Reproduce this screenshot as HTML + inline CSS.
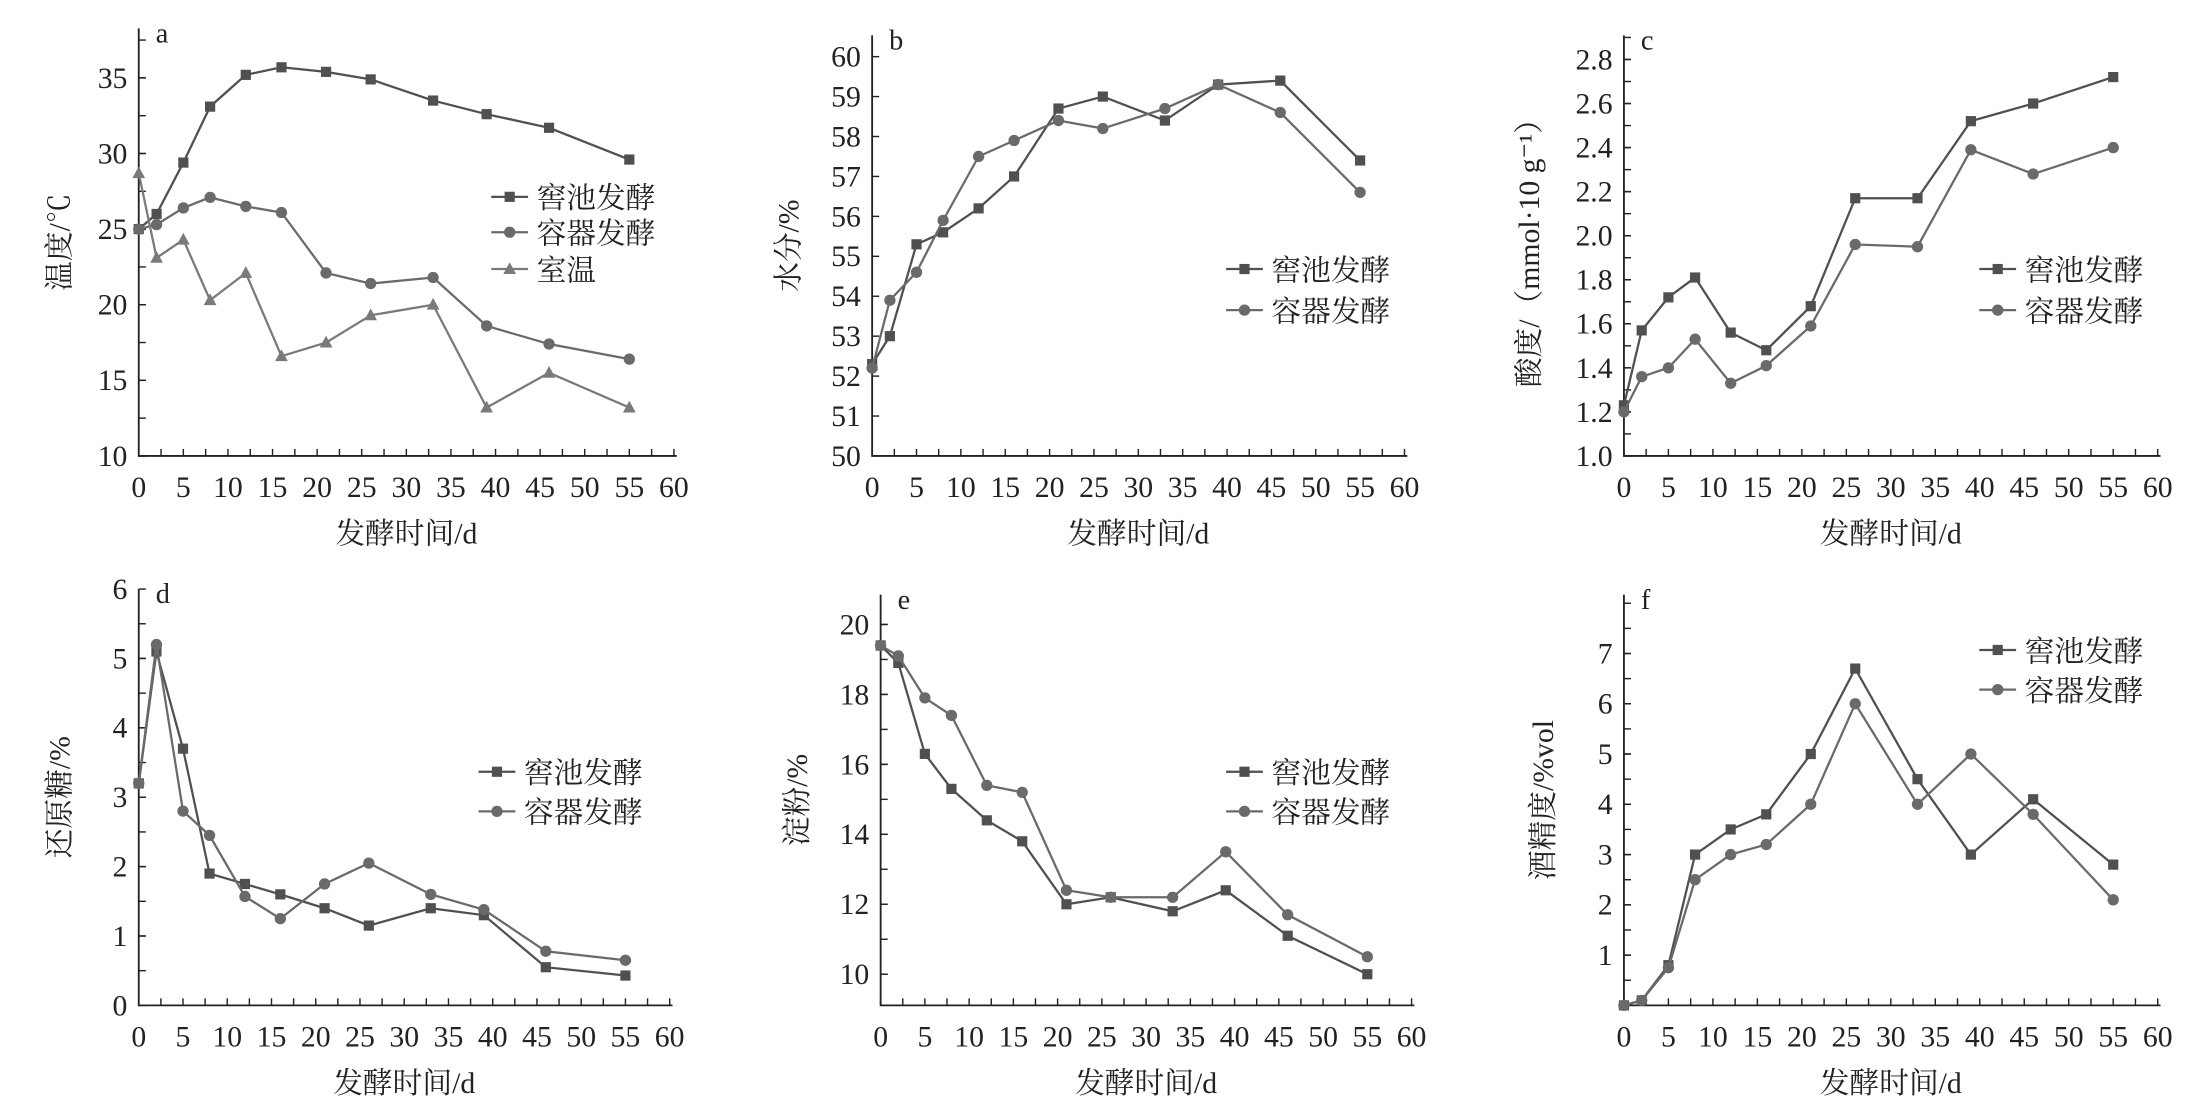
<!DOCTYPE html>
<html><head><meta charset="utf-8">
<style>html,body{margin:0;padding:0;background:#fff;width:2203px;height:1113px;overflow:hidden}
svg{display:block}
text{font-family:"Liberation Serif","Noto Serif CJK SC","Noto Sans CJK SC",serif;fill:#222}</style></head>
<body>
<svg id="s" width="2203" height="1113" viewBox="0 0 1556 786" preserveAspectRatio="none" xmlns="http://www.w3.org/2000/svg"></svg>
<script>
var X=[0,2,5,8,12,16,21,26,33,39,46,55];
var P=[
{x0:98,x1:476,yb:322,yt:20,vmin:10,vmax:10+(322-20)/(322-55)*25,ticks:[10,15,20,25,30,35],minor:2.5,dec:0,lab:'a',
 title:'温度/℃',tx:42,
 series:[{n:'窖池发酵',m:'s',c:'#505050',d:[25.0,26.0,29.4,33.1,35.2,35.7,35.4,34.9,33.5,32.6,31.7,29.6]},
 {n:'容器发酵',m:'c',c:'#6a6a6a',d:[25.0,25.3,26.4,27.1,26.5,26.1,22.1,21.4,21.8,18.6,17.4,16.4]},
 {n:'室温',m:'t',c:'#7a7a7a',d:[28.7,23.1,24.3,20.3,22.1,16.6,17.5,19.3,20.0,13.2,15.5,13.2]}],
 lx:347,ly:[139,164,190]},
{x0:616,x1:992,yb:322,yt:25,vmin:50,vmax:50+(322-25)/(322-40)*10,ticks:[50,51,52,53,54,55,56,57,58,59,60],minor:0,dec:0,lab:'b',
 title:'水分/%',tx:557,
 series:[{n:'窖池发酵',m:'s',c:'#505050',d:[52.3,53.0,55.3,55.6,56.2,57.0,58.7,59.0,58.4,59.3,59.4,57.4]},
 {n:'容器发酵',m:'c',c:'#6a6a6a',d:[52.2,53.9,54.6,55.9,57.5,57.9,58.4,58.2,58.7,59.3,58.6,56.6]}],
 lx:866,ly:[190,219]},
{x0:1147,x1:1524,yb:322,yt:25,vmin:1.0,vmax:1.0+(322-25)/(322-42)*1.8,ticks:[1.0,1.2,1.4,1.6,1.8,2.0,2.2,2.4,2.6,2.8],minor:0.1,dec:1,lab:'c',
 title:'酸度/（mmol·10 g⁻¹）',tx:1080,
 series:[{n:'窖池发酵',m:'s',c:'#505050',d:[1.23,1.57,1.72,1.81,1.56,1.48,1.68,2.17,2.17,2.52,2.60,2.72]},
 {n:'容器发酵',m:'c',c:'#6a6a6a',d:[1.20,1.36,1.40,1.53,1.33,1.41,1.59,1.96,1.95,2.39,2.28,2.40]}],
 lx:1398,ly:[190,219]},
{x0:98,x1:473,yb:710,yt:416,vmin:0,vmax:6,ticks:[0,1,2,3,4,5,6],minor:0.5,dec:0,lab:'d',
 title:'还原糖/%',tx:42,
 series:[{n:'窖池发酵',m:'s',c:'#505050',d:[3.2,5.1,3.7,1.9,1.75,1.6,1.4,1.15,1.4,1.3,0.55,0.43]},
 {n:'容器发酵',m:'c',c:'#6a6a6a',d:[3.2,5.2,2.8,2.45,1.57,1.25,1.75,2.05,1.6,1.38,0.78,0.65]}],
 lx:338,ly:[545,573]},
{x0:622,x1:997,yb:710,yt:420,vmin:10-(710-688)/24.7,vmax:20+(441-420)/24.7,ticks:[10,12,14,16,18,20],minor:1,dec:0,lab:'e',
 title:'淀粉/%',tx:563,
 series:[{n:'窖池发酵',m:'s',c:'#505050',d:[19.4,18.9,16.3,15.3,14.4,13.8,12.0,12.2,11.8,12.4,11.1,10.0]},
 {n:'容器发酵',m:'c',c:'#6a6a6a',d:[19.4,19.1,17.9,17.4,15.4,15.2,12.4,12.2,12.2,13.5,11.7,10.5]}],
 lx:866,ly:[545,573]},
{x0:1147,x1:1524,yb:710,yt:420,vmin:0,vmax:(710-420)/35.5,ticks:[1,2,3,4,5,6,7],minor:0.5,dec:0,lab:'f',
 title:'酒精度/%vol',tx:1090,
 series:[{n:'窖池发酵',m:'s',c:'#505050',d:[0,0.1,0.8,3.0,3.5,3.8,5.0,6.7,4.5,3.0,4.1,2.8]},
 {n:'容器发酵',m:'c',c:'#6a6a6a',d:[0,0.1,0.75,2.5,3.0,3.2,4.0,6.0,4.0,5.0,3.8,2.1]}],
 lx:1398,ly:[459,487]}
];
var h='';
function mk(m,x,y,c){
 if(m=='s')return '<rect x="'+(x-3.6)+'" y="'+(y-3.6)+'" width="7.2" height="7.2" fill="'+c+'"/>';
 if(m=='c')return '<circle cx="'+x+'" cy="'+y+'" r="4" fill="'+c+'"/>';
 return '<polygon points="'+x+','+(y-4.8)+' '+(x-4.5)+','+(y+3.5)+' '+(x+4.5)+','+(y+3.5)+'" fill="'+c+'"/>';
}
P.forEach(function(p){
 var sx=function(v){return p.x0+(p.x1-p.x0)*v/60};
 var sy=function(v){return p.yb-(p.yb-p.yt)*(v-p.vmin)/(p.vmax-p.vmin)};
 h+='<path d="M'+p.x0+','+p.yt+'V'+p.yb+'H'+(p.x1+2)+'" fill="none" stroke="#222" stroke-width="1.3"/>';
 for(var t=0;t<=60;t+=2.5){var x=sx(t);h+='<line x1="'+x+'" y1="'+p.yb+'" x2="'+x+'" y2="'+(p.yb-5)+'" stroke="#222" stroke-width="1"/>';}
 for(var t=0;t<=60;t+=5){h+='<text x="'+sx(t)+'" y="'+(p.yb+29)+'" font-size="21" text-anchor="middle">'+t+'</text>';}
 p.ticks.forEach(function(v){var y=sy(v);h+='<line x1="'+p.x0+'" y1="'+y+'" x2="'+(p.x0+5)+'" y2="'+y+'" stroke="#222"/>';
  h+='<text x="'+(p.x0-8)+'" y="'+(y+7)+'" font-size="21" text-anchor="end">'+v.toFixed(p.dec)+'</text>';});
 if(p.minor){for(var v=p.ticks[0]-p.minor;v<p.vmax;v+=p.minor){if(v<p.vmin)continue;var y=sy(v);h+='<line x1="'+p.x0+'" y1="'+y+'" x2="'+(p.x0+5)+'" y2="'+y+'" stroke="#222"/>';}}
 h+='<text x="'+(p.x0+12)+'" y="'+(p.yt+10)+'" font-size="20">'+p.lab+'</text>';
 var cx=(p.x0+p.x1)/2, ax=p.yb+62;
 h+='<text x="'+cx+'" y="'+ax+'" font-size="21" text-anchor="middle">发酵时间/d</text>';
 var cy=(p.yb+p.yt)/2;
 h+='<text transform="translate('+(p.tx+7)+','+cy+') rotate(-90)" font-size="21" text-anchor="middle">'+p.title+'</text>';
 p.series.forEach(function(s,i){
  var pts=X.map(function(x,j){return sx(x)+','+sy(s.d[j])}).join(' ');
  h+='<polyline points="'+pts+'" fill="none" stroke="'+s.c+'" stroke-width="1.6"/>';
  X.forEach(function(x,j){h+=mk(s.m,sx(x),sy(s.d[j]),s.c)});
  var ly=p.ly[i];
  h+='<line x1="'+p.lx+'" y1="'+ly+'" x2="'+(p.lx+26)+'" y2="'+ly+'" stroke="'+s.c+'" stroke-width="1.6"/>'+mk(s.m,p.lx+13,ly,s.c);
  h+='<text x="'+(p.lx+32)+'" y="'+(ly+8)+'" font-size="21">'+s.n+'</text>';
 });
});
document.getElementById('s').innerHTML=h;
</script>
</body></html>
